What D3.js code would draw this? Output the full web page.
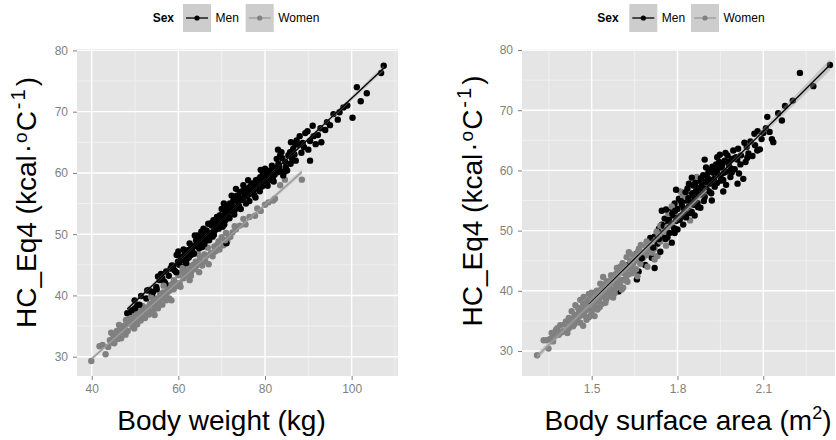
<!DOCTYPE html>
<html>
<head>
<meta charset="utf-8">
<script src="https://cdn.jsdelivr.net/npm/d3@7"></script>
<style>
body { margin: 0; background: #fff; }
svg { display: block; font-family: 'Liberation Sans', Arial, sans-serif; }
.tick text { fill: #7f7f7f; font-size: 12px; }
.tick line { stroke: #7f7f7f; }
.domain { display: none; }
</style>
</head>
<body>
<svg width="836" height="440"></svg>
<script>
// ---- data ----
var groups = ['Men', 'Women'];

// left panel: body weight (kg) vs HC_Eq4
var menWeight = [
  [48.2,37.1],[48.8,37.3],[49.9,39.2],[52.6,39.5],[52.8,40.8],[54.9,41.4],[55.7,42.5],[55.3,43.1],[56.8,42.2],[57.2,43.9],
  [58.2,44.4],[58.8,44.8],[59.9,45.5],[60.7,46.3],[61.5,45.8],[61.5,46.9],[62.2,47.4],[62.6,48.5],[63.4,47.9],[64.1,49.0],
  [64.5,49.8],[63.8,49.8],[65.3,50.4],[65.8,50.9],[66.5,50.6],[66.9,51.7],[67.7,51.4],[68.1,52.3],[69.2,52.0],[68.9,52.8],
  [69.6,53.1],[70.0,54.1],[70.8,53.6],[71.2,54.4],[71.9,55.0],[72.7,55.5],[72.3,56.3],[73.5,56.3],[73.3,57.4],[74.2,56.9],
  [75.0,58.0],[75.8,57.4],[76.5,57.7],[76.1,58.8],[77.3,58.2],[78.4,58.2],[77.9,58.8],[78.9,59.3],[79.6,59.2],[79.5,59.9],
  [80.0,60.7],[80.8,59.6],[81.5,59.9],[81.2,60.4],[82.5,60.8],[83.1,61.5],[82.7,62.3],[83.5,62.9],[83.8,63.4],[84.7,61.8],
  [85.1,60.4],[84.8,60.9],[85.9,61.5],[87.1,62.0],[85.8,63.4],[86.5,63.9],[87.0,64.7],[87.7,64.6],[87.3,65.3],[89.3,66.5],
  [90.4,65.2],[91.7,64.7],[92.2,66.2],[90.4,62.0],[93.9,67.0],[94.3,68.3],[95.8,69.6],[98.1,70.7],[100.2,69.0],[102.1,71.7],
  [101.2,74.0],[106.8,76.3],[107.4,77.5],[71.1,48.5],[57.8,43.2],[59.1,44.1],[60.2,45.0],[61.0,44.7],[62.0,46.0],[62.9,46.6],
  [63.3,47.0],[64.8,47.7],[65.0,48.6],[65.7,49.3],[66.2,48.9],[66.8,49.7],[67.3,50.2],[67.9,49.6],[68.5,50.7],[68.3,51.2],
  [69.0,51.4],[69.8,51.8],[70.3,52.5],[70.6,51.6],[71.5,52.9],[71.0,53.0],[72.0,53.8],[72.5,54.4],[73.0,53.9],[73.8,55.2],
  [74.5,55.6],[74.0,54.6],[75.2,56.1],[75.6,55.0],[76.2,56.5],[76.8,57.0],[77.5,56.4],[78.0,57.5],[78.7,57.9],[79.2,58.4],
  [80.3,58.7],[80.6,57.9],[81.8,59.0],[82.2,59.7],[83.6,60.3],[84.2,59.6],[86.2,62.4],[88.4,63.3],[89.0,64.2],[57.0,41.9],
  [55.0,41.0],[53.9,40.2],[51.4,39.9],[50.5,38.4],[60.0,47.2],[64.0,48.2],[66.0,49.9],[70.5,55.0],[73.0,55.6],[74.8,57.0],
  [77.0,58.0],[79.0,60.5],[83.0,63.8],[86.0,65.0],[89.8,66.8],[91.0,67.7],[96.8,68.7],[93.0,65.0],[88.0,66.0],
  [58.5,44.9],[59.5,43.8],[60.5,45.7],[61.2,47.5],[61.8,45.3],[62.4,46.2],[63.0,48.0],[63.6,46.8],[64.3,48.6],[64.9,49.2],
  [65.5,47.9],[66.0,48.4],[66.6,50.3],[67.1,49.0],[67.6,51.8],[68.2,49.9],[68.7,51.5],[69.3,50.9],[69.9,52.7],[70.2,51.2],
  [70.9,52.3],[71.4,53.8],[71.8,52.6],[72.3,54.9],[72.9,53.2],[73.4,54.4],[73.9,56.0],[74.4,54.1],[74.9,55.8],[75.4,57.1],
  [75.9,56.2],[76.4,55.4],[76.9,58.3],[77.4,57.2],[77.8,56.0],[78.3,58.9],[78.8,57.0],[79.3,57.8],[79.8,59.5],[80.4,60.0],
  [81.0,58.8],[81.6,61.2],[82.0,58.6],[82.9,60.1],[83.3,61.0],[84.0,62.4],[84.5,60.2],[85.4,62.9],[86.8,63.0],[88.7,64.9],
  [90.0,63.8],[91.2,66.0],[92.8,67.3],[95.0,67.8],[97.2,69.9],[99.0,71.0],[103.5,73.0],[56.3,42.8],[54.2,40.6],[53.2,40.9],
  [51.0,38.5],[49.2,37.6],[50.0,37.9],[59.6,46.6],[56.0,43.5]
];
var womenWeight = [
  [39.9,29.3],[41.8,31.7],[43.2,30.4],[42.5,31.9],[44.2,32.7],[45.0,33.5],[44.8,32.3],[46.2,33.4],[46.5,34.5],[47.3,34.0],
  [48.0,35.3],[48.3,34.2],[49.0,35.8],[49.4,34.9],[50.1,36.2],[50.5,35.3],[51.0,36.7],[51.3,35.9],[52.0,37.2],[52.3,36.3],
  [53.0,37.8],[53.2,36.9],[54.0,38.4],[54.2,37.4],[55.0,38.9],[55.3,37.9],[56.0,39.6],[56.3,38.5],[57.0,40.1],[57.2,39.2],
  [58.4,39.2],[58.0,40.8],[58.5,41.2],[59.4,41.5],[60.3,42.0],[61.2,42.8],[62.6,42.5],[62.0,43.4],[63.0,43.9],[63.9,44.3],
  [64.8,43.8],[65.5,44.9],[66.2,45.6],[67.0,45.1],[67.9,46.4],[68.6,47.2],[69.5,47.5],[70.4,48.2],[71.3,48.9],[71.7,49.5],
  [52.5,38.0],[53.5,38.6],[54.8,39.5],[55.8,40.2],[57.5,41.0],[59.0,42.5],[60.0,43.3],[61.5,44.0],[62.5,44.8],[64.0,45.5],
  [65.0,46.2],[45.5,33.0],[47.5,35.0],[48.8,36.2],[50.0,37.0],[51.5,37.5],[56.5,40.5],[58.8,42.0],[63.5,45.0],[66.5,46.5],
  [68.0,47.0],[69.0,48.3],[72.5,50.3],[73.3,50.8],[74.2,51.4],[75.5,51.6],[76.4,52.8],[77.7,53.0],[79.0,53.8],[80.0,54.8],
  [81.9,55.5],[82.3,55.8],[83.5,58.0],[84.6,58.9],[88.5,58.9],[70.0,49.5],[66.8,47.8],[64.5,46.8],[61.0,44.5],[54.5,36.8],
  [49.8,34.6],[46.8,33.0],
  [43.8,31.6],[44.5,33.9],[45.2,32.2],[45.8,34.2],[46.0,32.9],[47.0,34.9],[47.8,33.6],[48.5,35.7],[49.2,36.3],[49.6,35.2],
  [50.3,35.8],[50.8,37.3],[51.2,36.1],[51.8,36.8],[52.8,37.4],[53.3,38.3],[53.8,37.2],[54.3,39.0],[54.6,38.1],[55.5,39.2],
  [55.9,38.6],[56.8,39.8],[57.4,40.5],[57.9,39.5],[58.2,41.7],[58.9,41.0],[59.6,42.0],[60.5,41.4],[60.8,43.8],[61.6,43.3],
  [62.2,44.0],[62.9,43.2],[63.4,44.6],[64.2,44.9],[65.3,45.3],[66.0,46.7],[67.5,46.9],[68.3,48.0],[69.3,48.8],[70.8,49.0],
  [71.0,50.2],[72.0,49.6],[73.0,51.3],[75.0,52.5],[78.2,54.2],[80.8,55.2],[56.6,41.6],[53.7,39.7],[51.7,38.3],[47.9,36.0],
  [46.3,35.2]
];

// right panel: body surface area (m2) vs HC_Eq4
var menBsa = [
  [1.49,37.3],[1.586,42.3],[1.594,39.9],[1.60,40.6],[1.658,41.9],[1.664,43.2],[1.629,44.3],[1.658,46.2],[1.687,44.3],[1.69,46.0],
  [1.70,47.5],[1.71,45.5],[1.72,49.0],[1.73,47.8],[1.735,50.3],[1.74,48.8],[1.745,51.0],[1.75,49.5],[1.755,52.0],[1.76,50.4],
  [1.765,48.9],[1.77,51.8],[1.775,53.2],[1.78,50.9],[1.785,52.5],[1.79,54.5],[1.795,51.6],[1.80,53.6],[1.805,55.3],[1.81,52.4],
  [1.815,54.3],[1.82,56.2],[1.825,53.0],[1.83,55.0],[1.835,57.0],[1.84,54.0],[1.845,55.9],[1.85,53.1],[1.855,57.5],[1.86,55.2],
  [1.865,56.6],[1.87,54.6],[1.875,58.3],[1.88,56.0],[1.885,57.6],[1.89,59.2],[1.895,55.6],[1.90,57.2],[1.905,58.8],[1.91,56.5],
  [1.915,60.0],[1.92,58.0],[1.925,59.6],[1.93,57.3],[1.935,61.0],[1.939,62.2],[1.946,61.4],[1.95,59.0],[1.955,60.5],[1.96,58.4],
  [1.965,61.6],[1.97,59.8],[1.975,62.5],[1.98,60.8],[1.985,58.9],[1.99,61.9],[1.995,63.3],[2.005,62.2],[2.009,61.8],[2.0,60.2],
  [2.015,59.5],[2.02,61.0],[2.03,58.6],[2.034,64.6],[2.042,63.9],[2.044,62.1],[2.048,62.8],[2.069,66.1],[2.071,64.2],[2.079,63.3],
  [2.08,66.5],[2.088,63.5],[2.094,65.2],[2.109,67.0],[2.114,68.9],[2.130,65.2],[2.135,64.7],[2.152,69.5],[2.165,68.3],[2.176,70.7],
  [2.203,71.6],[2.228,76.2],[2.275,74.0],[2.333,77.5],[1.76,53.5],[1.78,48.0],[1.82,51.0],[1.86,52.5],[1.88,53.8],[1.92,55.0],
  [1.96,56.5],[1.74,46.5],[1.72,43.8],[1.80,50.2],[1.85,58.8],[1.90,60.5],[1.83,52.2],[1.87,57.0],[1.91,58.5],[1.94,59.5],
  [1.97,57.6],[1.99,59.7],[2.01,57.8],[1.895,61.8],[1.795,56.8],[1.745,53.3],[1.705,48.8],
  [1.752,50.8],[1.758,48.6],[1.768,51.3],[1.772,49.6],[1.782,52.8],[1.788,50.4],[1.792,53.3],[1.798,52.1],[1.808,51.8],[1.812,54.9],
  [1.818,52.7],[1.822,53.7],[1.828,56.4],[1.838,55.4],[1.842,52.9],[1.848,54.7],[1.852,56.2],[1.858,54.3],[1.862,57.9],[1.868,55.8],
  [1.872,53.9],[1.878,57.1],[1.882,58.7],[1.888,56.4],[1.892,54.9],[1.898,58.1],[1.902,56.8],[1.908,59.7],[1.912,57.8],[1.918,56.2],
  [1.922,60.6],[1.928,58.6],[1.932,59.9],[1.938,57.9],[1.942,60.4],[1.948,62.6],[1.952,58.3],[1.958,61.2],[1.962,59.6],[1.968,62.9],
  [1.978,61.5],[1.988,60.3],[1.998,62.0],[2.012,63.6],[2.022,62.5],[2.038,61.4],[2.055,64.8],[2.062,62.4],[2.1,66.2],[2.122,66.4],
  [1.84,57.8],[1.79,49.6],[1.735,48.6],[1.715,47.2],[1.675,45.4]
];
var womenBsa = [
  [1.309,29.3],[1.332,31.8],[1.343,31.8],[1.349,30.4],[1.385,32.7],[1.390,34.3],[1.40,33.3],[1.41,34.9],[1.42,33.8],[1.43,35.2],
  [1.435,34.1],[1.44,36.0],[1.443,37.6],[1.45,35.0],[1.455,36.4],[1.46,34.7],[1.465,37.0],[1.472,39.0],[1.475,35.9],[1.48,36.8],
  [1.485,38.2],[1.49,35.6],[1.495,37.4],[1.50,36.5],[1.505,38.8],[1.51,37.6],[1.515,39.5],[1.52,36.9],[1.525,38.3],[1.53,40.1],
  [1.535,37.8],[1.54,39.0],[1.545,41.0],[1.55,38.5],[1.555,40.3],[1.56,39.4],[1.565,41.6],[1.57,40.0],[1.575,38.9],[1.58,41.2],
  [1.585,42.8],[1.59,40.6],[1.595,43.5],[1.60,41.8],[1.605,40.2],[1.61,43.0],[1.615,44.2],[1.62,42.3],[1.625,41.5],[1.63,43.8],
  [1.635,45.0],[1.64,42.9],[1.645,44.5],[1.65,46.0],[1.655,43.6],[1.66,45.3],[1.665,47.0],[1.67,44.5],[1.675,46.2],[1.68,45.5],
  [1.69,47.4],[1.695,44.0],[1.70,46.8],[1.71,48.5],[1.72,47.0],[1.727,49.8],[1.74,48.2],[1.75,50.5],[1.756,49.8],[1.768,52.8],
  [1.78,51.0],[1.79,53.0],[1.80,52.0],[1.82,55.6],[1.832,55.7],[1.844,51.7],[1.867,58.9],[1.902,58.0],[1.85,54.2],[1.76,47.5],
  [1.73,45.8],[1.61,40.5],[1.58,39.6],[1.55,39.8],[1.52,38.9],[1.47,37.9],[1.46,38.5],[1.44,34.5],[1.43,36.6],[1.42,35.5],
  [1.38,33.8],[1.37,32.5],[1.36,33.0],[1.50,39.7],[1.53,41.2],[1.57,42.3],[1.60,44.0],[1.63,46.4],[1.66,42.4],[1.69,45.9],
  [1.72,45.2],[1.74,50.8],[1.78,54.0],[1.81,56.5],
  [1.355,32.0],[1.365,31.6],[1.375,33.5],[1.395,33.1],[1.405,34.4],[1.415,33.0],[1.425,34.8],[1.445,35.5],[1.452,37.2],[1.458,35.8],
  [1.468,36.3],[1.478,37.8],[1.482,35.2],[1.492,38.6],[1.498,36.0],[1.508,37.1],[1.512,38.4],[1.518,40.0],[1.528,37.3],[1.532,39.4],
  [1.538,40.7],[1.548,38.0],[1.552,41.6],[1.558,39.0],[1.562,40.8],[1.568,42.6],[1.572,39.5],[1.578,41.7],[1.582,40.3],[1.588,43.8],
  [1.592,42.0],[1.598,41.2],[1.602,43.2],[1.608,44.6],[1.612,41.8],[1.618,43.5],[1.622,45.6],[1.628,42.7],[1.638,44.0],[1.642,46.0],
  [1.648,43.3],[1.652,45.0],[1.662,46.5],[1.672,47.6],[1.682,46.4],[1.692,48.2],[1.702,47.8],[1.712,46.3],[1.735,49.2],[1.765,50.6],
  [1.49,39.5],[1.54,42.3],[1.47,34.2],[1.51,35.8]
];

var yTicks = [30, 40, 50, 60, 70, 80];
var yMinor = [35, 45, 55, 65, 75];
var weightTicks = [40, 60, 80, 100];
var weightMinor = [50, 70, 90, 110];
var bsaTicks = [1.5, 1.8, 2.1];
var bsaMinor = [1.35, 1.65, 1.95, 2.25];

var colors = { Men: '#000000', Women: '#808080' };
var lineColors = { Men: '#000000', Women: '#9a9a9a' };

var svg = d3.select('svg');

// least squares fit with 95% band, like geom_smooth(method = lm)
function linFit(pts) {
    var n = pts.length;
    var mx = d3.mean(pts, d => d[0]);
    var my = d3.mean(pts, d => d[1]);
    var sxx = d3.sum(pts, d => (d[0] - mx) * (d[0] - mx));
    var sxy = d3.sum(pts, d => (d[0] - mx) * (d[1] - my));
    var b = sxy / sxx;
    var a = my - b * mx;
    var rss = d3.sum(pts, d => Math.pow(d[1] - a - b * d[0], 2));
    var s = Math.sqrt(rss / (n - 2));
    var ext = d3.extent(pts, d => d[0]);
    var xs = d3.range(0, 41).map(i => ext[0] + (ext[1] - ext[0]) * i / 40);
    return xs.map(function (x) {
        var fit = a + b * x;
        var se = 1.97 * s * Math.sqrt(1 / n + (x - mx) * (x - mx) / sxx);
        return { x: x, y: fit, lo: fit - se, hi: fit + se };
    });
}

function drawPanel(p) {
    var x = d3.scaleLinear().domain(p.xDomain).range([p.left, p.right]);
    var y = d3.scaleLinear().domain(p.yDomain).range([p.bottom, p.top]);

    var g = svg.append('g');

    // panel background + grid
    g.append('rect')
        .attr('x', p.left).attr('y', p.top)
        .attr('width', p.right - p.left).attr('height', p.bottom - p.top)
        .attr('fill', '#e5e5e5');

    g.selectAll('.vminor').data(p.xMinor).enter().append('line')
        .attr('x1', d => x(d)).attr('x2', d => x(d))
        .attr('y1', p.top).attr('y2', p.bottom)
        .attr('stroke', '#f2f2f2').attr('stroke-width', 0.8);
    g.selectAll('.hminor').data(yMinor).enter().append('line')
        .attr('y1', d => y(d)).attr('y2', d => y(d))
        .attr('x1', p.left).attr('x2', p.right)
        .attr('stroke', '#f2f2f2').attr('stroke-width', 0.8);
    g.selectAll('.vmajor').data(p.xTicks).enter().append('line')
        .attr('x1', d => x(d)).attr('x2', d => x(d))
        .attr('y1', p.top).attr('y2', p.bottom)
        .attr('stroke', '#ffffff').attr('stroke-width', 1.4);
    g.selectAll('.hmajor').data(yTicks).enter().append('line')
        .attr('y1', d => y(d)).attr('y2', d => y(d))
        .attr('x1', p.left).attr('x2', p.right)
        .attr('stroke', '#ffffff').attr('stroke-width', 1.4);

    // points, interleaved like rows of the data frame
    var pts = [];
    var nMax = Math.max(p.men.length, p.women.length);
    for (var i = 0; i < nMax; i++) {
        if (i < p.women.length) pts.push({ sex: 'Women', v: p.women[i] });
        if (i < p.men.length) pts.push({ sex: 'Men', v: p.men[i] });
    }
    g.selectAll('.pt').data(pts).enter().append('circle')
        .attr('cx', d => x(d.v[0]))
        .attr('cy', d => y(d.v[1]))
        .attr('r', 3.2)
        .attr('fill', d => colors[d.sex]);

    // regression lines with confidence band
    groups.forEach(function (sex) {
        var fit = linFit(sex === 'Men' ? p.men : p.women);
        g.append('path')
            .attr('d', d3.area().x(d => x(d.x)).y0(d => y(d.lo)).y1(d => y(d.hi))(fit))
            .attr('fill', '#999999').attr('fill-opacity', 0.4);
        g.append('path')
            .attr('d', d3.line().x(d => x(d.x)).y(d => y(d.y))(fit))
            .attr('fill', 'none')
            .attr('stroke', lineColors[sex])
            .attr('stroke-width', 1.3);
    });

    // axes
    svg.append('g')
        .attr('transform', `translate(0, ${p.bottom})`)
        .call(d3.axisBottom(x).tickValues(p.xTicks).tickFormat(p.xFormat).tickSize(4).tickPadding(4));
    svg.append('g')
        .attr('transform', `translate(${p.left}, 0)`)
        .call(d3.axisLeft(y).tickValues(yTicks).tickSize(4).tickPadding(5));

    // x title
    var xt = svg.append('text')
        .attr('x', p.xTitleX).attr('y', 430)
        .attr('text-anchor', 'middle')
        .attr('font-size', 28).attr('fill', '#000');
    p.xTitle(xt);

    // y title
    var yt = svg.append('text')
        .attr('transform', `translate(${p.yTitleX}, ${p.yTitleY}) rotate(-90)`)
        .attr('text-anchor', 'middle')
        .attr('font-size', 28).attr('fill', '#000');
    yt.append('tspan').text('HC_Eq4 (kcal');
    yt.append('tspan').attr('dx', 2).text('\u00b7');
    yt.append('tspan').attr('font-size', 19).attr('dx', 1).attr('dy', -9).text('o');
    yt.append('tspan').attr('dx', 1).attr('dy', 9).text('C');
    yt.append('tspan').attr('font-size', 20).attr('dx', 2).attr('dy', -11)
        .attr('letter-spacing', 2).text('-1');
    yt.append('tspan').attr('dx', 1).attr('dy', 11).text(')');

    // legend
    var lg = svg.append('g');
    lg.append('text')
        .attr('x', p.legend.sex).attr('y', 22)
        .attr('font-size', 12).attr('font-weight', 'bold').text('Sex');
    groups.forEach(function (sex, i) {
        var bx = p.legend.keys[i];
        lg.append('rect')
            .attr('x', bx).attr('y', 4).attr('width', 28).attr('height', 28)
            .attr('fill', '#cdcdcd');
        lg.append('line')
            .attr('x1', bx + 3).attr('x2', bx + 25).attr('y1', 18).attr('y2', 18)
            .attr('stroke', lineColors[sex]).attr('stroke-width', 1.3);
        lg.append('circle')
            .attr('cx', bx + 14).attr('cy', 18).attr('r', 2.6)
            .attr('fill', colors[sex]);
        lg.append('text')
            .attr('x', bx + 32.5).attr('y', 22)
            .attr('font-size', 12).attr('fill', '#000').text(sex);
    });
}

drawPanel({
    left: 77, right: 398, top: 49, bottom: 376,
    xDomain: [36.6, 110.7], yDomain: [26.85, 80.23],
    xTicks: weightTicks, xMinor: weightMinor, xFormat: d3.format('d'),
    men: menWeight, women: womenWeight,
    xTitleX: 221.5,
    xTitle: function (t) { t.text('Body weight (kg)'); },
    yTitleX: 36, yTitleY: 202.5,
    legend: { sex: 152.7, keys: [183, 245.7] }
});

drawPanel({
    left: 522, right: 835, top: 49, bottom: 376,
    xDomain: [1.2563, 2.3507], yDomain: [25.85, 80.17],
    xTicks: bsaTicks, xMinor: bsaMinor, xFormat: d3.format('.1f'),
    men: menBsa, women: womenBsa,
    xTitleX: 688,
    xTitle: function (t) {
        t.append('tspan').text('Body surface area (m');
        t.append('tspan').attr('font-size', 18).attr('dy', -11).text('2');
        t.append('tspan').attr('dy', 11).text(')');
    },
    yTitleX: 481.5, yTitleY: 201,
    legend: { sex: 597.3, keys: [629.3, 691] }
});
</script>
</body>
</html>
